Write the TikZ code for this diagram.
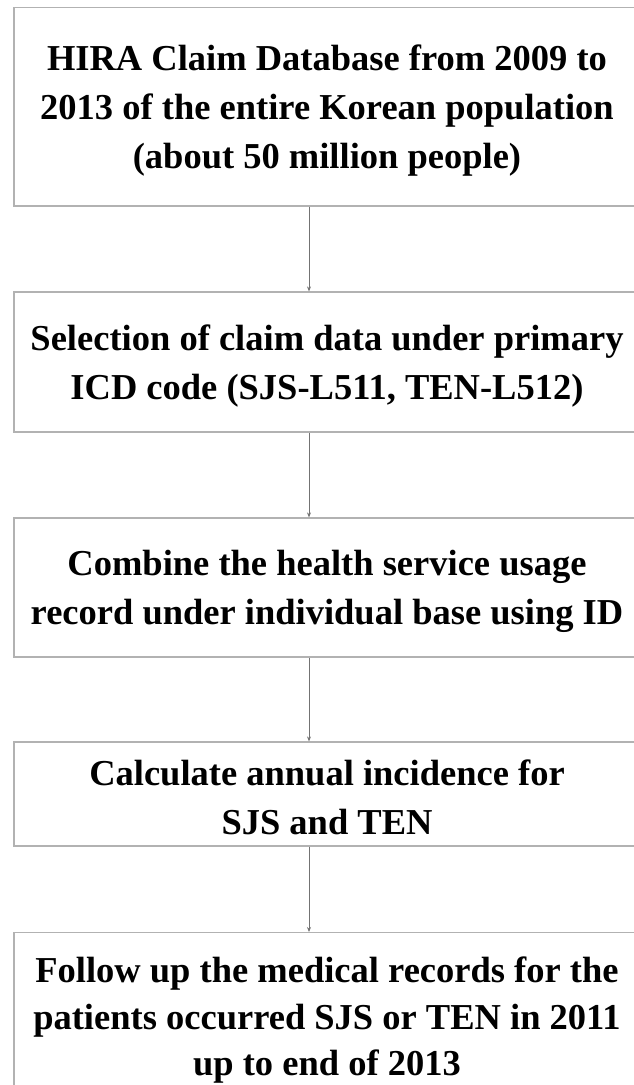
\documentclass[tikz,border=0pt]{standalone}
\usepackage{fontspec}
\setmainfont{Liberation Serif}
\usetikzlibrary{arrows.meta}
\newcommand{\toppad}{\rule{0pt}{33pt}}
\tikzset{
  stepbox/.style={draw=black!30, line width=1.2pt, rectangle, minimum width=626pt, align=center, inner sep=0pt,
    font=\fontsize{36.5}{49}\selectfont\bfseries},
  arr/.style={draw=black!55, line width=0.8pt, -{Stealth[length=5pt,width=4pt]}}
}
\begin{document}
\begin{tikzpicture}[x=1pt,y=1pt]
\useasboundingbox (0,0) rectangle (634,-1085);
\clip (0,0) rectangle (634,-1085);
\node[stepbox, minimum height=198.5pt] (b1) at (327,-106.75)
  {\toppad HIRA Claim Database from 2009 to\\2013 of the entire Korean population\\(about 50 million people)};
\node[stepbox, minimum height=140pt] (b2) at (327,-362)
  {\toppad Selection of claim data under primary\\ICD code (SJS-L511, TEN-L512)};
\node[stepbox, minimum height=139pt] (b3) at (327,-587.5)
  {\toppad Combine the health service usage\\record under individual base using ID};
\node[stepbox, minimum height=104pt] (b4) at (327,-794)
  {\toppad Calculate annual incidence for\\SJS and TEN};
\node[stepbox, anchor=north, inner ysep=17pt, font=\fontsize{36.5}{46.5}\selectfont\bfseries] (b5) at (327,-932)
  {\toppad Follow up the medical records for the\\patients occurred SJS or TEN in 2011\\up to end of 2013};
\draw[arr] ([xshift=-18pt]b1.south) -- ([xshift=-18pt]b2.north);
\draw[arr] ([xshift=-18pt]b2.south) -- ([xshift=-18pt]b3.north);
\draw[arr] ([xshift=-18pt]b3.south) -- ([xshift=-18pt]b4.north);
\draw[arr] ([xshift=-18pt]b4.south) -- ([xshift=-18pt]b5.north);
\end{tikzpicture}
\end{document}
